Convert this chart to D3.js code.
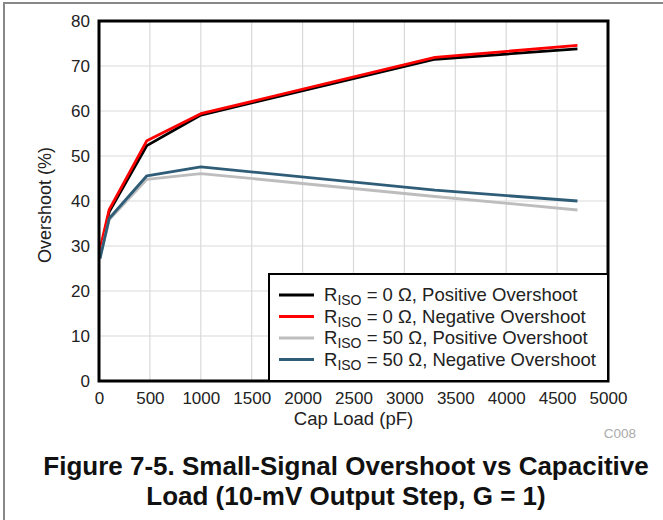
<!DOCTYPE html>
<html><head><meta charset="utf-8">
<script src="https://cdn.jsdelivr.net/npm/d3@7"></script>
<style>body{margin:0;background:#fff;} svg{display:block;}</style>
</head><body>
<svg id="c" width="663" height="520"></svg>
<script>
const capLoad = [10, 100, 470, 1000, 3300, 4700];
const r0Positive = [28.5, 37.6, 52.3, 59.1, 71.5, 73.8];
const r0Negative = [29.3, 38.1, 53.4, 59.4, 71.9, 74.6];
const r50Positive = [27.5, 35.8, 44.8, 46.1, 41.0, 38.0];
const r50Negative = [27.2, 36.1, 45.6, 47.6, 42.4, 40.0];
const xTicks = [0,500,1000,1500,2000,2500,3000,3500,4000,4500,5000];
const yTicks = [0,10,20,30,40,50,60,70,80];
const seriesNames = ["= 0 \u03A9, Positive Overshoot","= 0 \u03A9, Negative Overshoot","= 50 \u03A9, Positive Overshoot","= 50 \u03A9, Negative Overshoot"];
const seriesColors = ["#000000","#ff0000","#bdbdbd","#2f5d78"];
const seriesData = [r0Positive, r0Negative, r50Positive, r50Negative];

const svg = d3.select("#c");
const font = "Arial, 'Liberation Sans', sans-serif";
svg.append("rect").attr("x",4).attr("y",3).attr("width",670).attr("height",530)
  .attr("fill","none").attr("stroke","#888").attr("stroke-width",2);

const L=99, R=608, T=21, B=381;
const x = d3.scaleLinear().domain([0,5000]).range([L,R]);
const y = d3.scaleLinear().domain([0,80]).range([B,T]);

const g = svg.append("g");
g.selectAll(".gx").data(xTicks).enter().append("line")
  .attr("x1",d=>x(d)).attr("x2",d=>x(d)).attr("y1",T).attr("y2",B)
  .attr("stroke","#d9d9d9").attr("stroke-width",1.2);
g.selectAll(".gy").data(yTicks).enter().append("line")
  .attr("x1",L).attr("x2",R).attr("y1",d=>y(d)).attr("y2",d=>y(d))
  .attr("stroke","#d9d9d9").attr("stroke-width",1.2);

const xAxis = d3.axisBottom(x).tickValues(xTicks).tickSize(0).tickPadding(11).tickFormat(d3.format("d"));
const xa = svg.append("g").attr("transform",`translate(0,${B})`).call(xAxis);
xa.select(".domain").remove();
xa.selectAll("text").attr("font-family",font).attr("font-size",17).attr("fill","#222");
const yAxis = d3.axisLeft(y).tickValues(yTicks).tickSize(0).tickPadding(9).tickFormat(d3.format("d"));
const ya = svg.append("g").attr("transform",`translate(${L},0)`).call(yAxis);
ya.select(".domain").remove();
ya.selectAll("text").attr("font-family",font).attr("font-size",17).attr("fill","#222");

const line = d3.line().x((d,i)=>x(capLoad[i])).y(d=>y(d));
seriesData.forEach((s,k)=>{
  svg.append("path").datum(s).attr("d",line).attr("fill","none")
    .attr("stroke",seriesColors[k]).attr("stroke-width",2.8).attr("stroke-linejoin","round");
});

svg.append("rect").attr("x",L).attr("y",T).attr("width",R-L).attr("height",B-T)
  .attr("fill","none").attr("stroke","#000").attr("stroke-width",3);

const lg = svg.append("g");
lg.append("rect").attr("x",269).attr("y",274).attr("width",R-269).attr("height",B-274)
  .attr("fill","#fff").attr("stroke","#000").attr("stroke-width",2);
seriesNames.forEach((n,k)=>{
  const yy = 295 + k*21.5;
  lg.append("line").attr("x1",279).attr("x2",314).attr("y1",yy).attr("y2",yy)
    .attr("stroke",seriesColors[k]).attr("stroke-width",2.8);
  const t = lg.append("text").attr("x",324).attr("y",yy+6).attr("font-family",font)
    .attr("font-size",18.5).attr("fill","#222");
  t.append("tspan").text("R");
  t.append("tspan").attr("font-size",14).attr("dy",4).text("ISO");
  t.append("tspan").attr("dy",-4).text(" " + n);
});

svg.append("text").attr("x",(L+R)/2).attr("y",425).attr("text-anchor","middle")
  .attr("font-family",font).attr("font-size",18.5).attr("fill","#222").text("Cap Load (pF)");
svg.append("text").attr("transform",`translate(51,${(T+B)/2+4}) rotate(-90)`).attr("text-anchor","middle")
  .attr("font-family",font).attr("font-size",18).attr("fill","#222").text("Overshoot (%)");
svg.append("text").attr("x",636).attr("y",438).attr("text-anchor","end")
  .attr("font-family",font).attr("font-size",13.5).attr("fill","#aaa").text("C008");

svg.append("text").attr("x",346).attr("y",475).attr("text-anchor","middle")
  .attr("font-family",font).attr("font-size",26).attr("font-weight","bold").attr("fill","#111")
  .text("Figure 7-5. Small-Signal Overshoot vs Capacitive");
svg.append("text").attr("x",346).attr("y",505).attr("text-anchor","middle")
  .attr("font-family",font).attr("font-size",26).attr("font-weight","bold").attr("fill","#111")
  .text("Load (10-mV Output Step, G = 1)");
</script>
</body></html>
